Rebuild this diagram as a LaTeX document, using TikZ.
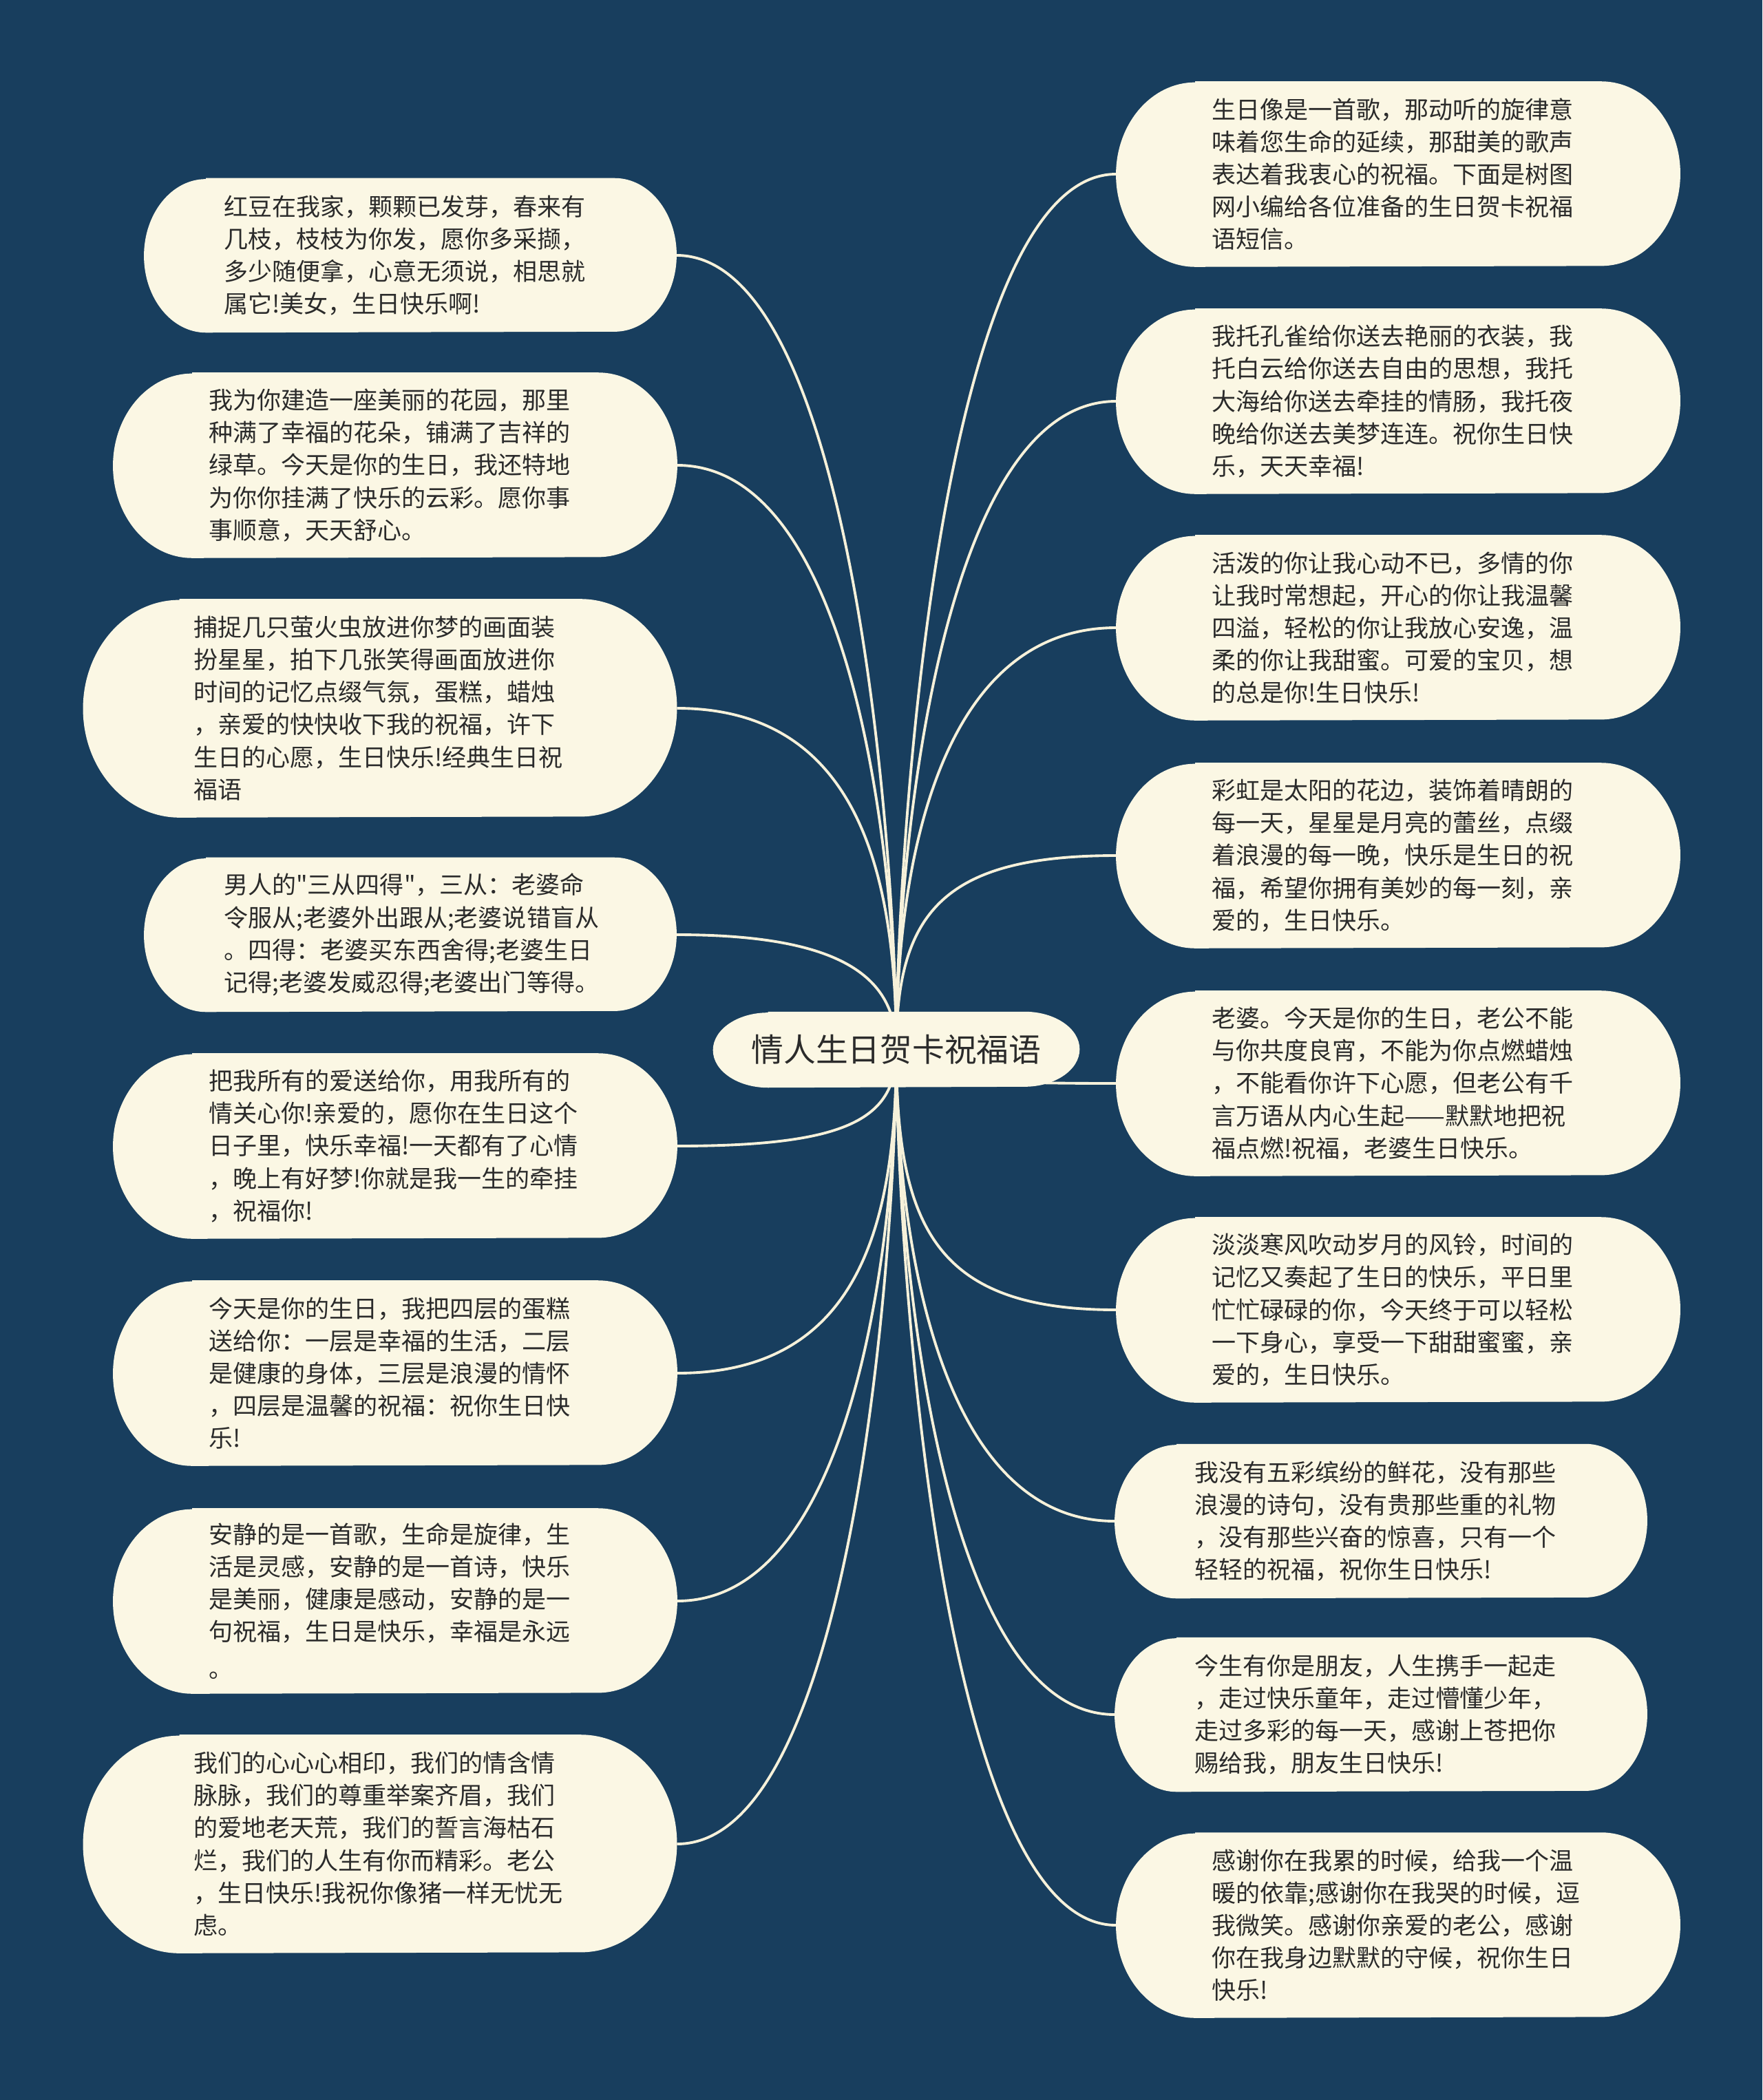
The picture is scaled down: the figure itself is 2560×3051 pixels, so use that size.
\documentclass[tikz,border=0pt]{standalone}
\usepackage{fontspec}
\setmainfont{Noto Sans CJK SC}[Ligatures=TeXOff]
\usetikzlibrary{calc}
\definecolor{cPaper}{HTML}{183E5E}
\definecolor{cPill}{HTML}{FBF7E4}
\definecolor{cInk}{HTML}{2B2B2B}
\definecolor{cLink}{HTML}{F6F1DA}
\pgfdeclarelayer{paper}
\pgfdeclarelayer{links}
\pgfdeclarelayer{pills}
\pgfsetlayers{paper,links,pills,main}
\tikzset{
  leaf/.style={
    shape=rectangle,
    inner sep=0pt,
    text=cInk,
    align=left,
    text width=154pt,
    font=\fontsize{9.96pt}{13.4pt}\selectfont
  },
  leafS/.style={leaf, minimum width=7.72cm, minimum height=2.23cm},
  leafM/.style={leaf, minimum width=8.18cm, minimum height=2.68cm},
  leafL/.style={leaf, minimum width=8.61cm, minimum height=3.16cm},
  topic/.style={
    shape=rectangle,
    inner sep=0pt,
    text=cInk,
    minimum width=5.31cm,
    minimum height=1.09cm,
    font=\fontsize{13.3pt}{16pt}\selectfont
  },
  link/.style={
    draw=cLink,
    line width=1.1pt
  }
}
% pill-shaped fill behind a node: name, x radius, y radius
\newcommand{\pill}[3]{%
  \fill[cPill] ($(#1.north west)+(#2,0)$) -- ($(#1.north east)-(#2,0)$)
    arc[start angle=90, end angle=-90, x radius=#2, y radius=#3]
    -- ($(#1.south west)+(#2,0)$)
    arc[start angle=270, end angle=90, x radius=#2, y radius=#3] -- cycle;%
}

\begin{document}
\begin{tikzpicture}[x=0.01cm, y=-0.01cm]
  \useasboundingbox (0,0) rectangle (2560,3051);
  \begin{pgfonlayer}{paper}
    \fill[cPaper] (0,0) rectangle (2560,3051);
  \end{pgfonlayer}

  \node[topic] (root) at (1302,1525) {情人生日贺卡祝福语};

  % left side
  \node[leafS] (l1) at (596,371) {红豆在我家，颗颗已发芽，春来有\\几枝，枝枝为你发，愿你多采撷，\\多少随便拿，心意无须说，相思就\\属它!美女，生日快乐啊!};
  \node[leafM] (l2) at (574,676) {我为你建造一座美丽的花园，那里\\种满了幸福的花朵，铺满了吉祥的\\绿草。今天是你的生日，我还特地\\为你你挂满了快乐的云彩。愿你事\\事顺意，天天舒心。};
  \node[leafL] (l3) at (552,1029) {捕捉几只萤火虫放进你梦的画面装\\扮星星，拍下几张笑得画面放进你\\时间的记忆点缀气氛，蛋糕，蜡烛\\，亲爱的快快收下我的祝福，许下\\生日的心愿，生日快乐!经典生日祝\\福语};
  \node[leafS] (l4) at (596,1358) {男人的"三从四得"，三从：老婆命\\令服从;老婆外出跟从;老婆说错盲从\\。四得：老婆买东西舍得;老婆生日\\记得;老婆发威忍得;老婆出门等得。};
  \node[leafM] (l5) at (574,1665) {把我所有的爱送给你，用我所有的\\情关心你!亲爱的，愿你在生日这个\\日子里，快乐幸福!一天都有了心情\\，晚上有好梦!你就是我一生的牵挂\\，祝福你!};
  \node[leafM] (l6) at (574,1995) {今天是你的生日，我把四层的蛋糕\\送给你：一层是幸福的生活，二层\\是健康的身体，三层是浪漫的情怀\\，四层是温馨的祝福：祝你生日快\\乐!};
  \node[leafM] (l7) at (574,2326) {安静的是一首歌，生命是旋律，生\\活是灵感，安静的是一首诗，快乐\\是美丽，健康是感动，安静的是一\\句祝福，生日是快乐，幸福是永远\\[2pt]。};
  \node[leafL] (l8) at (552,2679) {我们的心心心相印，我们的情含情\\脉脉，我们的尊重举案齐眉，我们\\的爱地老天荒，我们的誓言海枯石\\烂，我们的人生有你而精彩。老公\\，生日快乐!我祝你像猪一样无忧无\\虑。};

  % right side
  \node[leafM] (r1) at (2031,253) {生日像是一首歌，那动听的旋律意\\味着您生命的延续，那甜美的歌声\\表达着我衷心的祝福。下面是树图\\网小编给各位准备的生日贺卡祝福\\语短信。};
  \node[leafM] (r2) at (2031,583) {我托孔雀给你送去艳丽的衣装，我\\托白云给你送去自由的思想，我托\\大海给你送去牵挂的情肠，我托夜\\晚给你送去美梦连连。祝你生日快\\乐，天天幸福!};
  \node[leafM] (r3) at (2031,912) {活泼的你让我心动不已，多情的你\\让我时常想起，开心的你让我温馨\\四溢，轻松的你让我放心安逸，温\\柔的你让我甜蜜。可爱的宝贝，想\\的总是你!生日快乐!};
  \node[leafM] (r4) at (2031,1243) {彩虹是太阳的花边，装饰着晴朗的\\每一天，星星是月亮的蕾丝，点缀\\着浪漫的每一晚，快乐是生日的祝\\福，希望你拥有美妙的每一刻，亲\\爱的，生日快乐。};
  \node[leafM] (r5) at (2031,1574) {老婆。今天是你的生日，老公不能\\与你共度良宵，不能为你点燃蜡烛\\，不能看你许下心愿，但老公有千\\言万语从内心生起——默默地把祝\\福点燃!祝福，老婆生日快乐。};
  \node[leafM] (r6) at (2031,1903) {淡淡寒风吹动岁月的风铃，时间的\\记忆又奏起了生日的快乐，平日里\\忙忙碌碌的你，今天终于可以轻松\\一下身心，享受一下甜甜蜜蜜，亲\\爱的，生日快乐。};
  \node[leafS] (r7) at (2006,2210) {我没有五彩缤纷的鲜花，没有那些\\浪漫的诗句，没有贵那些重的礼物\\，没有那些兴奋的惊喜，只有一个\\轻轻的祝福，祝你生日快乐!};
  \node[leafS] (r8) at (2006,2491) {今生有你是朋友，人生携手一起走\\，走过快乐童年，走过懵懂少年，\\走过多彩的每一天，感谢上苍把你\\赐给我，朋友生日快乐!};
  \node[leafM] (r9) at (2031,2797) {感谢你在我累的时候，给我一个温\\暖的依靠;感谢你在我哭的时候，逗\\我微笑。感谢你亲爱的老公，感谢\\你在我身边默默的守候，祝你生日\\快乐!};

  \begin{pgfonlayer}{pills}
    \pill{root}{0.8cm}{0.545cm}
    \foreach \n in {l1,l4,r7,r8} {\pill{\n}{0.9cm}{1.115cm}}
    \foreach \n in {l2,l5,l6,l7,r1,r2,r3,r4,r5,r6,r9} {\pill{\n}{1.15cm}{1.34cm}}
    \foreach \n in {l3,l8} {\pill{\n}{1.4cm}{1.58cm}}
  \end{pgfonlayer}

  \begin{pgfonlayer}{links}
    \draw[link] (root.center) .. controls +(0,-260) and +(260,0) .. (l1.east);
    \draw[link] (root.center) .. controls +(0,-260) and +(260,0) .. (l2.east);
    \draw[link] (root.center) .. controls +(0,-260) and +(260,0) .. (l3.east);
    \draw[link] (root.center) .. controls +(0,-100) and +(250,0) .. (l4.east);
    \draw[link] (root.center) .. controls +(0,100) and +(250,0) .. (l5.east);
    \draw[link] (root.center) .. controls +(0,260) and +(260,0) .. (l6.east);
    \draw[link] (root.center) .. controls +(0,260) and +(260,0) .. (l7.east);
    \draw[link] (root.center) .. controls +(0,260) and +(260,0) .. (l8.east);
    \draw[link] (root.center) .. controls +(0,-260) and +(-260,0) .. (r1.west);
    \draw[link] (root.center) .. controls +(0,-260) and +(-260,0) .. (r2.west);
    \draw[link] (root.center) .. controls +(0,-260) and +(-260,0) .. (r3.west);
    \draw[link] (root.center) .. controls +(0,-200) and +(-250,0) .. (r4.west);
    \draw[link] (root.center) .. controls +(0,40) and +(-250,0) .. (r5.west);
    \draw[link] (root.center) .. controls +(0,260) and +(-260,0) .. (r6.west);
    \draw[link] (root.center) .. controls +(0,260) and +(-260,0) .. (r7.west);
    \draw[link] (root.center) .. controls +(0,260) and +(-260,0) .. (r8.west);
    \draw[link] (root.center) .. controls +(0,260) and +(-260,0) .. (r9.west);
  \end{pgfonlayer}
\end{tikzpicture}
\end{document}
